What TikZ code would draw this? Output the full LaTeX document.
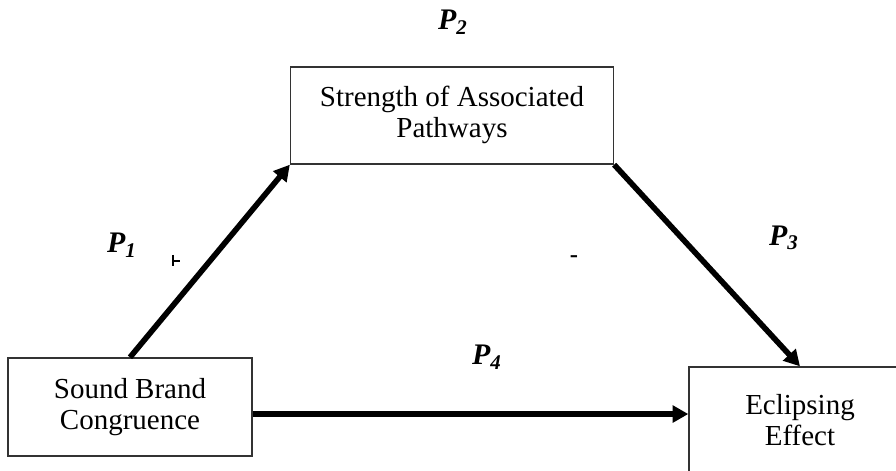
\documentclass[tikz,border=0pt]{standalone}
\usepackage{fontspec}
\setmainfont{Liberation Serif}
\usetikzlibrary{arrows.meta}
\begin{document}
\begin{tikzpicture}[x=0.02cm, y=0.02cm,
	box/.style={draw=black!80, line width=0.8pt, align=center, inner sep=0pt, font=\fontsize{16.5}{18}\selectfont},
	link/.style={line width=3.2pt, -{Triangle[length=9pt, width=9.5pt]}},
	plabel/.style={font=\fontsize{17}{20}\selectfont\bfseries\itshape}]
	\clip (0,0) rectangle (896,470);
	\node[box, minimum width=4.88cm, minimum height=1.96cm] (sound) at (130,63) {Sound Brand\\Congruence};
	\node[box, minimum width=6.46cm, minimum height=1.94cm] (strength) at (452,354.5) {\raisebox{3pt}{\begin{tabular}{@{}c@{}}Strength of Associated\\Pathways\end{tabular}}};
	\node[box, minimum width=4.44cm, minimum height=2.12cm] (eclipse) at (800,50) {Eclipsing\\Effect};
	\draw[link] (sound.north) -- (strength.south west);
	\draw[link] (strength.south east) -- (eclipse.north);
	\draw[link] ([yshift=-4]sound.east) -- ([yshift=-4]sound.east -| eclipse.west);
	\node[plabel] (p1) at (122,225) {P\textsubscript{1}};
	\node[plabel] (p2) at (453,448) {P\textsubscript{2}};
	\node[plabel] (p3) at (784,232) {P\textsubscript{3}};
	\node[plabel] (p4) at (487,113) {P\textsubscript{4}};
	% sign marks
	\draw[line width=0.8pt] (173,215) -- (173,204) (173,209) -- (180,209);
	\node[font=\fontsize{14}{15}\selectfont\bfseries] (minus) at (574,211) {-};
\end{tikzpicture}
\end{document}
